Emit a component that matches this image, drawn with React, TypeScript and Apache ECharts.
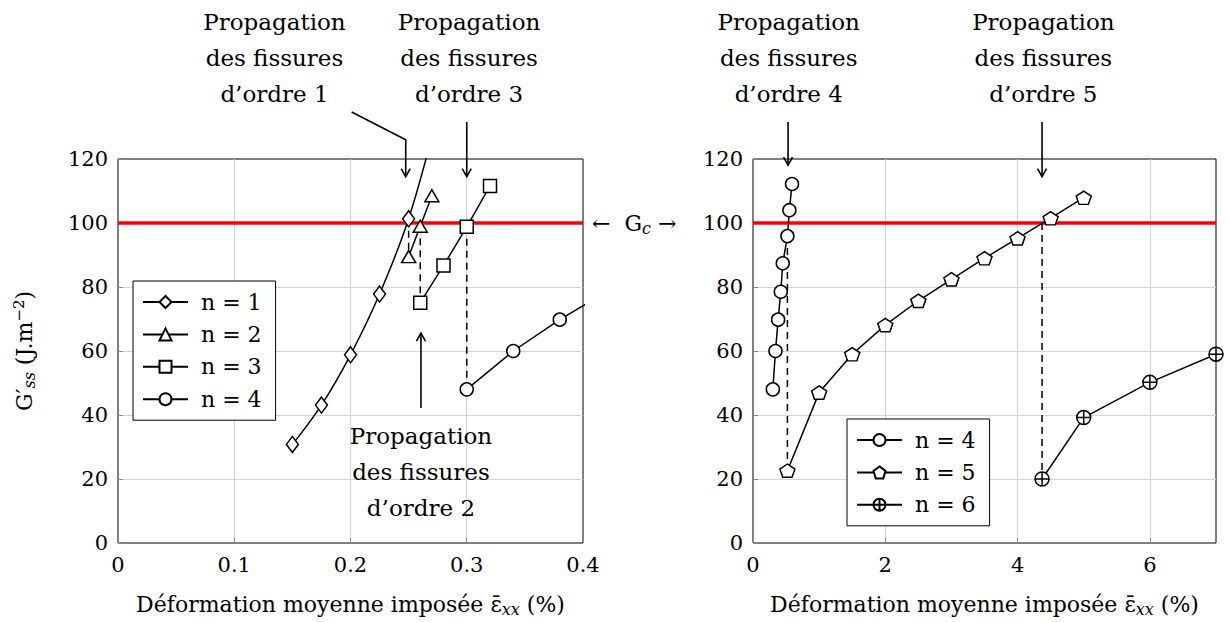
import React, { useEffect, useRef } from "react";
import * as echarts from "echarts";

const FONT = "DejaVu Serif";

// ---- data ----
const yTicks = [0, 20, 40, 60, 80, 100, 120];
const leftXTicks = [0, 0.1, 0.2, 0.3, 0.4];
const rightXTicks = [0, 2, 4, 6, 7];

const n1X = [0.15, 0.175, 0.2, 0.225, 0.25, 0.275];
const n1Y = [30.8, 43.1, 58.8, 77.8, 101.3, 134];
const n2X = [0.25, 0.26, 0.27];
const n2Y = [89.5, 99, 108.5];
const n3X = [0.26, 0.28, 0.3, 0.32];
const n3Y = [75.1, 86.7, 98.8, 111.6];
const n4X = [0.3, 0.34, 0.38, 0.42, 0.45, 0.52, 0.55, 0.59];
const n4Y = [48, 60, 69.8, 78.5, 87.4, 95.9, 104, 112.2];
const n5X = [0.52, 1, 1.5, 2, 2.5, 3, 3.5, 4, 4.5, 5];
const n5Y = [22.6, 47, 59, 68.1, 75.7, 82.4, 89, 95.2, 101.5, 107.9];
const n6X = [4.37, 5, 6, 7];
const n6Y = [20, 39.2, 50.2, 59];

const Gc = 100;

// dashed drops (x, from, to)
const dropLeftX = [0.25, 0.26, 0.3];
const dropLeftTop = [101.3, 99, 98.8];
const dropLeftBottom = [89.5, 75.1, 48];
const dropRightX = [0.52, 4.37];
const dropRightTop = [95.9, 100];
const dropRightBottom = [22.6, 20];

const noteText = (k: number) => `Propagation\ndes fissures\nd’ordre ${k}`;
const notes = [
  { g: 0, at: [0.1346, 151.6], k: 1 },
  { g: 0, at: [0.302, 151.6], k: 3 },
  { g: 0, at: [0.2606, 22.2], k: 2 },
  { g: 1, at: [0.54, 151.6], k: 4 },
  { g: 1, at: [4.39, 151.6], k: 5 },
];
const arrows = [
  { g: 0, pts: [[0.201, 134.7], [0.2475, 126], [0.2475, 114.5]] },
  { g: 0, pts: [[0.3, 131.6], [0.3, 114.5]] },
  { g: 0, pts: [[0.2606, 42.2], [0.2606, 65.6]] },
  { g: 1, pts: [[0.53, 131.6], [0.53, 118.1]] },
  { g: 1, pts: [[4.37, 131.6], [4.37, 114.5]] },
];

const PENTAGON =
  "path://M0,-1L0.951,-0.309L0.588,0.809L-0.588,0.809L-0.951,-0.309Z";
const OPLUS =
  "path://M-10,0A10,10 0 1,1 10,0A10,10 0 1,1 -10,0ZM-10,0L10,0M0,-10L0,10";

const zip = (xs: number[], ys: number[]) => xs.map((x, i) => [x, ys[i]]);

function curve(
  name: string,
  xs: number[],
  ys: number[],
  symbol: string,
  size: any,
  g: number,
  smooth: any = false
) {
  return {
    type: "line",
    name,
    xAxisIndex: g,
    yAxisIndex: g,
    data: zip(xs, ys),
    symbol,
    symbolSize: size,
    symbolKeepAspect: true,
    showAllSymbol: true,
    smooth,
    clip: true,
    z: 3,
    lineStyle: { color: "#000", width: 1.5 },
    itemStyle: { color: "#fff", borderColor: "#000", borderWidth: 1.5 },
    emphasis: { disabled: true },
  };
}

function drop(x: number, a: number, b: number, g: number) {
  return {
    type: "line",
    xAxisIndex: g,
    yAxisIndex: g,
    data: [
      [x, a],
      [x, b],
    ],
    symbol: "none",
    z: 2,
    silent: true,
    lineStyle: { color: "#000", width: 1.5, type: [7, 5] },
  };
}

function gcLine(g: number, x0: number, x1: number) {
  return {
    type: "line",
    xAxisIndex: g,
    yAxisIndex: g,
    data: [
      [x0, Gc],
      [x1, Gc],
    ],
    symbol: "none",
    z: 1,
    silent: true,
    lineStyle: { color: "#ff0000", width: 3.5 },
  };
}

const tickLabel = { fontSize: 21, color: "#000", fontFamily: FONT };
const xName = "{a|Déformation moyenne imposée ε\u0304}{s|xx}{a| (%)}";
const nameRich = {
  a: { fontSize: 22, fontFamily: FONT, color: "#000" },
  s: {
    fontSize: 16,
    fontStyle: "italic",
    fontFamily: FONT,
    color: "#000",
    padding: [10, 0, 0, 0],
  },
  p: {
    fontSize: 15,
    fontFamily: FONT,
    color: "#000",
    padding: [0, 0, 12, 0],
  },
};

function xAxis(g: number, ticks: number[]) {
  const min = ticks[0];
  const max = ticks[ticks.length - 1];
  const interval = ticks[1] - ticks[0];
  return {
    gridIndex: g,
    type: "value",
    min,
    max,
    interval,
    axisLine: { show: false },
    axisTick: { show: true, inside: true, length: 5, lineStyle: { color: "#888" } },
    splitLine: {
      show: true,
      showMinLine: false,
      showMaxLine: false,
      lineStyle: { color: "#d4d4d4", width: 1 },
    },
    axisLabel: { ...tickLabel, margin: 11, showMaxLabel: g === 0 },
    name: xName,
    nameLocation: "middle",
    nameGap: 48,
    nameTextStyle: { rich: nameRich },
  };
}

function yAxis(g: number) {
  return {
    gridIndex: g,
    type: "value",
    min: yTicks[0],
    max: yTicks[yTicks.length - 1],
    interval: yTicks[1] - yTicks[0],
    axisLine: { show: false },
    axisTick: { show: true, inside: true, length: 5, lineStyle: { color: "#888" } },
    splitLine: {
      show: true,
      showMinLine: false,
      showMaxLine: false,
      lineStyle: { color: "#d4d4d4", width: 1 },
    },
    axisLabel: { ...tickLabel, margin: 10 },
    ...(g === 0
      ? {
          name: "{a|G′}{s|ss}{a| (J.m}{p|−2}{a|)}",
          nameLocation: "middle",
          nameGap: 80,
          nameTextStyle: { rich: nameRich },
        }
      : {}),
  };
}

const legendBase = {
  orient: "vertical",
  itemWidth: 45,
  itemHeight: 15,
  itemGap: 10.4,
  backgroundColor: "#fff",
  borderColor: "#000",
  borderWidth: 1,
  borderRadius: 0,
  selectedMode: false,
  textStyle: {
    fontSize: 22,
    lineHeight: 22,
    fontFamily: FONT,
    color: "#000",
    padding: [0, 0, 0, 8],
  },
};

export default function App() {
  const ref = useRef<HTMLDivElement>(null);
  useEffect(() => {
    const chart = echarts.init(ref.current!, null, { renderer: "svg" });
    chart.setOption({
      animation: false,
      textStyle: { fontFamily: FONT },
      grid: [
        { left: 118, top: 159, width: 465, height: 384, show: true, borderColor: "#000", borderWidth: 1 },
        { left: 753, top: 159, width: 463, height: 384, show: true, borderColor: "#000", borderWidth: 1 },
      ],
      xAxis: [xAxis(0, leftXTicks), xAxis(1, rightXTicks)],
      yAxis: [yAxis(0), yAxis(1)],
      legend: [
        { ...legendBase, data: ["n = 1", "n = 2", "n = 3", "n = 4"], left: 133, top: 281, padding: [10, 14, 10, 9] },
        { ...legendBase, data: ["n = 4", "n = 5", "n = 6"], left: 847, top: 419, padding: [10, 14, 10, 9] },
      ],
      series: [
        gcLine(0, leftXTicks[0], leftXTicks[leftXTicks.length - 1]),
        gcLine(1, rightXTicks[0], rightXTicks[rightXTicks.length - 1]),
        ...dropLeftX.map((x, i) => drop(x, dropLeftTop[i], dropLeftBottom[i], 0)),
        ...dropRightX.map((x, i) => drop(x, dropRightTop[i], dropRightBottom[i], 1)),
        curve("n = 1", n1X, n1Y, "diamond", [12, 16], 0, 0.35),
        curve("n = 2", n2X, n2Y, "triangle", [14, 12], 0),
        curve("n = 3", n3X, n3Y, "rect", 13, 0),
        curve("n = 4", n4X, n4Y, "circle", 13, 0),
        curve("n = 4", n4X, n4Y, "circle", 13, 1),
        curve("n = 5", n5X, n5Y, PENTAGON, [15, 14], 1),
        curve("n = 6", n6X, n6Y, OPLUS, 14, 1),
      ],
    });

    const px = (g: number, p: number[]) =>
      chart.convertToPixel({ xAxisIndex: g, yAxisIndex: g } as any, p) as number[];

    const graphics: any[] = [];
    notes.forEach((n) => {
      const [x, y] = px(n.g, n.at);
      graphics.push({
        type: "text",
        silent: true,
        z: 10,
        style: {
          text: noteText(n.k),
          x,
          y,
          fill: "#000",
          fontSize: 23,
          fontFamily: FONT,
          align: "center",
          verticalAlign: "middle",
          lineHeight: 36,
        },
      });
    });
    arrows.forEach((a) => {
      const pts = a.pts.map((p) => px(a.g, p));
      graphics.push({
        type: "polyline",
        silent: true,
        z: 10,
        shape: { points: pts },
        style: { stroke: "#000", lineWidth: 1.6, fill: null },
      });
      const tip = pts[pts.length - 1];
      const prev = pts[pts.length - 2];
      const dx = tip[0] - prev[0];
      const dy = tip[1] - prev[1];
      const L = Math.hypot(dx, dy);
      const ux = dx / L;
      const uy = dy / L;
      const nx = -uy;
      const ny = ux;
      graphics.push({
        type: "polyline",
        silent: true,
        z: 10,
        shape: {
          points: [
            [tip[0] - ux * 8 + nx * 4.5, tip[1] - uy * 8 + ny * 4.5],
            tip,
            [tip[0] - ux * 8 - nx * 4.5, tip[1] - uy * 8 - ny * 4.5],
          ],
        },
        style: { stroke: "#000", lineWidth: 1.6, fill: null },
      });
    });
    const gcAt = px(0, [leftXTicks[leftXTicks.length - 1], Gc]);
    graphics.push({
      type: "text",
      silent: true,
      z: 10,
      style: {
        text: "{a|←  G}{s|c}{a| →}",
        x: gcAt[0] + 9,
        y: gcAt[1],
        align: "left",
        verticalAlign: "middle",
        rich: nameRich,
      },
    });
    chart.setOption({ graphic: graphics });

    return () => chart.dispose();
  }, []);

  return (
    <div
      ref={ref}
      style={{ position: "absolute", left: 0, top: 0, width: 1230, height: 622, background: "#fff" }}
    />
  );
}
